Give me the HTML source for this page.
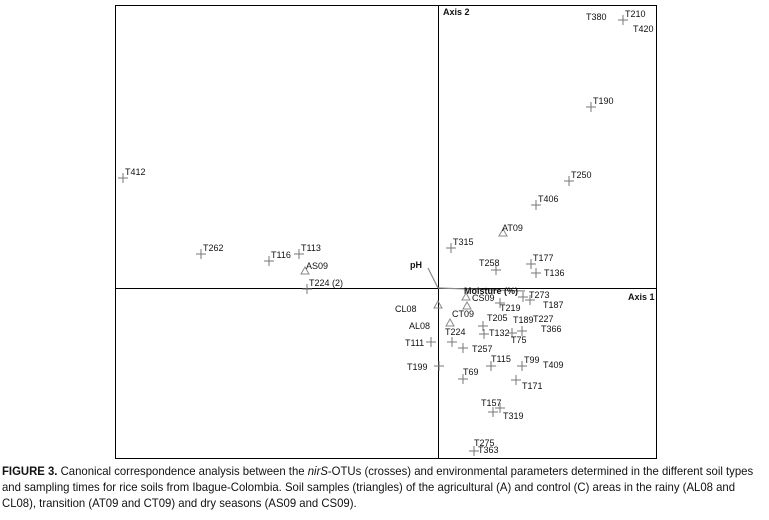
<!DOCTYPE html>
<html><head><meta charset="utf-8">
<style>
body{margin:0;background:#fff;width:769px;height:520px;overflow:hidden;}
svg text{font-family:"Liberation Sans",sans-serif;font-size:9px;fill:#111;}
#cap{position:absolute;left:2px;top:463px;width:808px;transform:scaleX(0.945);transform-origin:0 0;font-family:"Liberation Sans Narrow","Liberation Sans",sans-serif;font-size:12px;line-height:16px;color:#111;}
</style></head><body>
<svg width="769" height="460" style="position:absolute;left:0;top:0">
<rect x="115.5" y="5.5" width="541" height="453" fill="none" stroke="#000" stroke-width="1"/>
<g id="g"></g>
</svg>
<div id="cap"><b>FIGURE 3.</b> Canonical correspondence analysis between the <i>nirS</i>-OTUs (crosses) and environmental parameters determined in the different soil types and sampling times for rice soils from Ibague-Colombia. Soil samples (triangles) of the agricultural (A) and control (C) areas in the rainy (AL08 and CL08), transition (AT09 and CT09) and dry seasons (AS09 and CS09).</div>
<script>
// OTU scores (axis1, axis2)
const otuNames=["T412","T262","T116","T113","T224 (2)","T210","T190","T250","T406","T315","T258","T177","T136","T273","T187","T219","T205","T132","T189","T75","T224","T111","T257","T199","T115","T99","T69","T171","T157","T319","T275"];
const otuX=[-3.15,-2.37,-1.69,-1.39,-1.31,1.85,1.53,1.31,0.98,0.13,0.58,0.93,0.98,0.85,0.92,0.62,0.45,0.46,0.84,0.74,0.14,-0.07,0.25,0.01,0.53,0.84,0.25,0.78,0.62,0.55,0.36];
const otuY=[1.10,0.34,0.27,0.34,-0.01,2.68,1.81,1.07,0.83,0.40,0.18,0.24,0.15,-0.09,-0.12,-0.15,-0.38,-0.46,-0.43,-0.45,-0.54,-0.54,-0.60,-0.78,-0.78,-0.78,-0.91,-0.92,-1.20,-1.24,-1.63];
// label offsets (styling)
const otuLdx=[2,2,2,2,2,2,2,2,2,2,-17,2,8,6,13,0,4,5,-9,-1,-7,-26,9,-32,0,2,0,6,-19,10,0];
const otuLdy=[-3,-3,-3,-3,-3,-3,-3,-3,-3,-3,-4,-3,3,1,8,8,-5,2,-8,10,-7,4,4,4,-4,-3,-4,9,-2,7,-5];
const sampleNames=["AS09","AT09","CS09","CT09","CL08","AL08"];
const sampleX=[-1.33,0.65,0.28,0.29,0.00,0.12];
const sampleY=[0.17,0.55,-0.09,-0.18,-0.17,-0.35];
const sLdx=[1,-1,6,-15,-43,-41];
const sLdy=[-2,-2,4,11,7,6];
const envNames=["pH","Moisture (%)"];
const envX=[-0.10,0.87];
const envY=[0.20,-0.03];
const cx=438,cy=288,sc=100;
const X=v=>cx+v*sc, Y=v=>cy-v*sc;
const g=document.getElementById('g');
const NS="http://www.w3.org/2000/svg";
function mk(t,a){const e=document.createElementNS(NS,t);for(const k in a)e.setAttribute(k,a[k]);g.appendChild(e);return e;}
let e;
e=mk('line',{x1:115,y1:cy+.5,x2:656,y2:cy+.5,stroke:'#000','stroke-width':1});


e=mk('line',{x1:cx+.5,y1:5,x2:cx+.5,y2:458,stroke:'#000','stroke-width':1});


e=mk('text',{x:628,y:300,'font-weight':'bold'});e.textContent='Axis 1';


e=mk('text',{x:443,y:15,'font-weight':'bold'});e.textContent='Axis 2';


envNames.forEach((n,i)=>{
 const l=mk('line',{x1:cx,y1:cy,x2:X(envX[i]),y2:Y(envY[i]),stroke:'#888','stroke-width':1.2});
 
 
 const t=mk('text',{x:i?X(envX[i])-61:X(envX[i])-18,y:i?Y(envY[i])+3:Y(envY[i]),'font-weight':'bold'});t.textContent=n;
 
 
});
otuNames.forEach((n,i)=>{
 const x=X(otuX[i]),y=Y(otuY[i]);
 const p=mk('path',{d:`M${x-5},${y}H${x+5}M${x},${y-5}V${y+5}`,stroke:'#777','stroke-width':1,fill:'none'});
 
 
 const t=mk('text',{x:x+otuLdx[i],y:y+otuLdy[i]});t.textContent=n;
 
 
});
[["T380",-37,0],["T420",10,12]].forEach(a=>{
 const t=mk('text',{x:X(otuX[5])+a[1],y:Y(otuY[5])+a[2]});t.textContent=a[0];
 
 
});
[["T227",0.95,-0.34],["T366",1.03,-0.44],["T409",1.05,-0.80],["T363",0.40,-1.65]].forEach(a=>{
 const t=mk('text',{x:X(a[1]),y:Y(a[2])});t.textContent=a[0];
 
 
});
sampleNames.forEach((n,i)=>{
 const x=X(sampleX[i]),y=Y(sampleY[i]);
 const p=mk('path',{d:`M${x},${y-4}L${x+4},${y+3}L${x-4},${y+3}Z`,stroke:'#888','stroke-width':1,fill:'none'});
 
 
 const t=mk('text',{x:x+sLdx[i],y:y+sLdy[i]});t.textContent=n;
 
 
});
</script>
</body></html>
